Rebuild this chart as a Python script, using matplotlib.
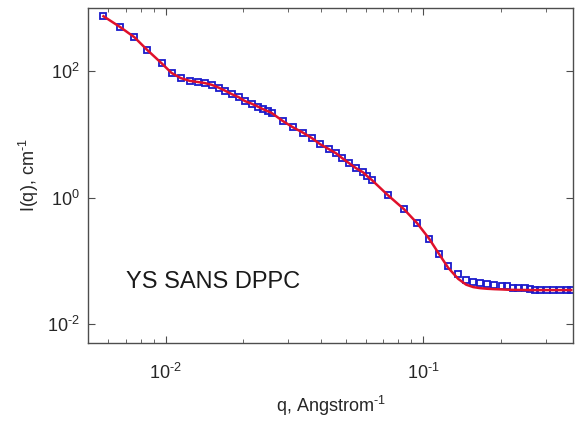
import numpy as np
import matplotlib
matplotlib.use("Agg")
import matplotlib.pyplot as plt
from matplotlib.ticker import LogLocator, NullLocator, FuncFormatter

plt.rcParams['font.family'] = ['Liberation Sans', 'DejaVu Sans']
plt.rcParams['mathtext.fontset'] = 'custom'
plt.rcParams['mathtext.rm'] = 'Liberation Sans'
plt.rcParams['mathtext.it'] = 'Liberation Sans'

# measured SANS data (q in 1/Angstrom, I in 1/cm)
q = [0.00574, 0.00668, 0.00757, 0.00851, 0.00965, 0.01055, 0.01144, 0.01240,
     0.01332, 0.01418, 0.01510, 0.01608, 0.01697, 0.01806, 0.01923, 0.02030,
     0.02161, 0.02280, 0.02385, 0.02494, 0.02585, 0.02853, 0.03120, 0.03413,
     0.03700, 0.03974, 0.04307, 0.04586, 0.04839, 0.05153, 0.05487, 0.05842,
     0.06056, 0.06334, 0.07307, 0.08435, 0.09478, 0.1055, 0.1154, 0.1251,
     0.1368, 0.1470, 0.1565, 0.1667, 0.1774, 0.1889, 0.2029, 0.2122,
     0.2239, 0.2342, 0.2494, 0.2608, 0.2728, 0.2853, 0.3038, 0.3205,
     0.3413, 0.3634, 0.3760]
intensity = [740.6, 496.3, 344.6, 214.8, 133.8, 94.7, 77.5, 69.5,
             68.2, 65.8, 61.2, 54.8, 49.2, 43.3, 38.8, 33.5,
             30.6, 27.5, 25.1, 23.3, 21.7, 16.2, 13.0, 10.66,
             8.72, 7.01, 5.85, 5.05, 4.21, 3.51, 2.93, 2.53,
             2.19, 1.89, 1.095, 0.658, 0.395, 0.2248, 0.1302, 0.0826,
             0.0617, 0.0496, 0.0461, 0.0445, 0.0429, 0.0421, 0.0399, 0.0399,
             0.0371, 0.0371, 0.0371, 0.0358, 0.0345, 0.0345, 0.0345, 0.0345,
             0.0345, 0.0345, 0.0345]

# model fit evaluated at the same q
fit = [740.6, 496.3, 344.6, 214.8, 133.8, 94.0, 78.0, 70.5,
       67.5, 65.0, 61.0, 55.0, 49.5, 43.5, 38.8, 33.8,
       30.6, 27.6, 25.2, 23.3, 21.8, 16.3, 13.0, 10.7,
       8.75, 7.05, 5.85, 5.05, 4.25, 3.52, 2.93, 2.52,
       2.20, 1.89, 1.09, 0.655, 0.395, 0.225, 0.128, 0.078,
       0.052, 0.0420, 0.0385, 0.0370, 0.0362, 0.0357, 0.0353, 0.0350,
       0.0348, 0.0347, 0.0346, 0.0345, 0.0345, 0.0345, 0.0345, 0.0345,
       0.0345, 0.0345, 0.0345]

axis_col = '#4d4d4d'
text_col = '#262626'


def pow10_label(v, pos):
    e = int(round(np.log10(v)))
    return '10$^{%s}$' % str(e).replace('-', '\u2010')


fig = plt.figure(figsize=(5.76, 4.21), dpi=100)
ax = fig.add_axes([0.1528, 0.185, 0.842, 0.796])

ax.loglog(q, intensity, 's', mfc='none', mec='#1a1acc', mew=1.3, ms=4.2, zorder=2)
ax.loglog(q, fit, '-', color='#e0102a', lw=1.8, zorder=3)

ax.set_xlim(0.005, 0.382)
ax.set_ylim(0.005, 1000)
ax.set_yticks([1e-2, 1e0, 1e2])
ax.yaxis.set_minor_locator(NullLocator())
ax.xaxis.set_major_locator(LogLocator(base=10, numticks=10))
ax.xaxis.set_minor_locator(LogLocator(base=10, subs=np.arange(2, 10), numticks=10))
ax.xaxis.set_major_formatter(FuncFormatter(pow10_label))
ax.yaxis.set_major_formatter(FuncFormatter(pow10_label))

for s in ax.spines.values():
    s.set_color(axis_col)
    s.set_linewidth(1.0)
ax.tick_params(which='both', direction='in', top=True, right=True,
               color=axis_col, labelcolor=text_col)
ax.tick_params(which='major', length=5, labelsize=13)
ax.tick_params(axis='x', which='major', pad=14)
ax.tick_params(axis='y', which='major', pad=6)
ax.tick_params(which='minor', length=3)

ax.set_xlabel('q, Angstrom$^{\u20101}$', fontsize=13, color=text_col, labelpad=8)
ax.set_ylabel('I(q), cm$^{\u20101}$', fontsize=13, color=text_col, labelpad=4)

ax.text(0.00705, 0.0461, 'YS SANS DPPC', fontsize=17, color='#1a1a1a',
        ha='left', va='center')

fig.savefig('out.png', dpi=100)
